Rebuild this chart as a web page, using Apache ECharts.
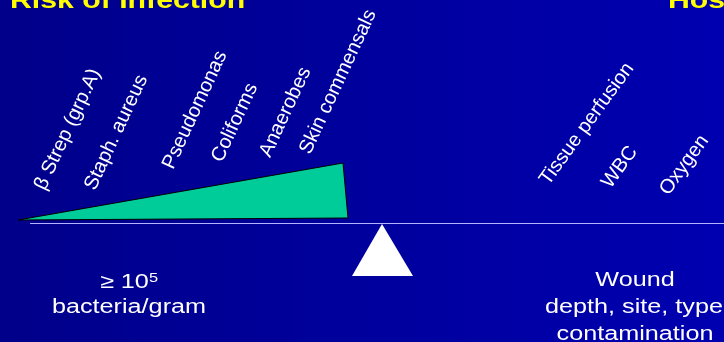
<!DOCTYPE html>
<html>
<head>
<meta charset="utf-8">
<script src="https://cdn.jsdelivr.net/npm/echarts@6/dist/echarts.min.js"></script>
<style>html,body{margin:0;padding:0;overflow:hidden;}#c{width:724px;height:342px;}</style>
</head>
<body>
<div id="c"></div>
<script>
// ---- content / values (slide units: x 0..724, y 0..342 downwards) ----
const titleLeft = 'Risk of Infection';
const titleRight = 'Host';
const riskFactors = ['β Strep (grp.A)', 'Staph. aureus', 'Pseudomonas', 'Coliforms', 'Anaerobes', 'Skin commensals'];
const riskX = [40, 90, 168, 217, 265, 305];
const riskY = [189, 189, 168, 161, 156, 153];
const hostFactors = ['Tissue perfusion', 'WBC', 'Oxygen'];
const hostX = [544, 606, 664];
const hostY = [183, 186, 193];
const wedgeX = [18, 343, 348];
const wedgeY = [220, 163, 218];
const beamX = [30, 724];
const beamY = [223.5, 223.5];
const fulcrumX = [382, 352, 413];
const fulcrumY = [224, 276, 276];
const leftLines = ['≥ 10⁵', 'bacteria/gram'];
const leftLinesX = [129, 129];
const leftLinesY = [282, 307];
const rightLines = ['Wound', 'depth, site, type', 'contamination'];
const rightLinesX = [635, 634, 635];
const rightLinesY = [280, 307, 334];

const FONT = '"Liberation Sans", Arial, sans-serif';
const chart = echarts.init(document.getElementById('c'), null, {renderer: 'canvas'});

function textSeries(texts, xs, ys, o) {
  return {
    type: 'custom',
    coordinateSystem: 'cartesian2d',
    silent: true,
    data: texts.map((t, i) => [xs[i], ys[i], i]),
    renderItem: function (params, api) {
      const i = api.value(2);
      const p = api.coord([api.value(0), api.value(1)]);
      let txt = texts[i];
      const style = {
        text: txt, fill: o.color, fontSize: o.size, fontFamily: FONT,
        fontWeight: o.weight || 'normal', align: o.align, verticalAlign: 'middle'
      };
      if (txt.indexOf('⁵') >= 0) {
        style.text = txt.replace('⁵', '{s|5}');
        style.rich = { s: { fontSize: 13, fontFamily: FONT, fill: o.color, verticalAlign: 'top' } };
      }
      return {
        type: 'text', x: p[0], y: p[1],
        rotation: (o.rot || 0) * Math.PI / 180,
        scaleX: o.sx || 1,
        style: style
      };
    }
  };
}

function polySeries(xs, ys, style) {
  return {
    type: 'custom',
    coordinateSystem: 'cartesian2d',
    silent: true,
    data: xs.map((x, i) => [x, ys[i]]),
    renderItem: function (params, api) {
      if (params.dataIndex !== 0) return;
      const pts = xs.map((x, i) => api.coord([x, ys[i]]));
      return { type: 'polygon', shape: { points: pts }, style: style };
    }
  };
}

chart.setOption({
  animation: false,
  backgroundColor: new echarts.graphic.LinearGradient(0, 0, 1, 0, [
    { offset: 0, color: '#00008A' },
    { offset: 1, color: '#0000B0' }
  ]),
  grid: { left: 0, right: 0, top: 0, bottom: 0 },
  xAxis: { type: 'value', min: 0, max: 724, show: false },
  yAxis: { type: 'value', min: 0, max: 342, inverse: true, show: false },
  series: [
    {
      type: 'line', silent: true, symbol: 'none',
      data: beamX.map((x, i) => [x, beamY[i]]),
      lineStyle: { color: '#B4B4FF', width: 1 }
    },
    polySeries(wedgeX, wedgeY, { fill: '#00CC99', stroke: '#000000', lineWidth: 1 }),
    polySeries(fulcrumX, fulcrumY, { fill: '#FFFFFF' }),
    textSeries([titleLeft, titleRight], [10, 668], [1.6, 1.6], { color: '#FFFF00', size: 24, weight: 'bold', align: 'left', sx: 1.26 }),
    textSeries(riskFactors, riskX, riskY, { color: '#FFFFFF', size: 20, align: 'left', rot: 65 }),
    textSeries(hostFactors, hostX, hostY, { color: '#FFFFFF', size: 20, align: 'left', rot: 54 }),
    textSeries(leftLines, leftLinesX, leftLinesY, { color: '#FFFFFF', size: 20, align: 'center', sx: 1.26 }),
    textSeries(rightLines, rightLinesX, rightLinesY, { color: '#FFFFFF', size: 20, align: 'center', sx: 1.26 })
  ]
});
</script>
</body>
</html>
